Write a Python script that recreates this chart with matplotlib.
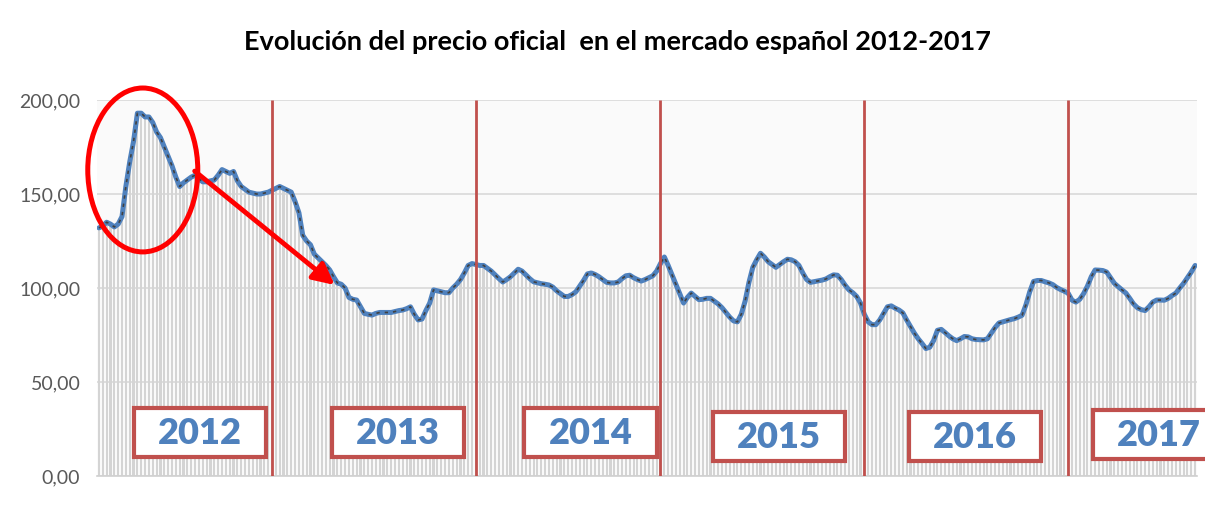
import matplotlib
matplotlib.use('Agg')
import matplotlib.pyplot as plt
from matplotlib.patches import Ellipse, Rectangle
import numpy as np

# precio semanal (feb 2012 - ago 2017)
precio = [
    132, 133, 135, 134, 132.5, 134, 138, 154, 167, 178,
    193, 193, 191, 191, 188, 183, 180, 175, 170, 165,
    159, 154, 156, 157.5, 159, 160, 158, 156.5, 156.5, 157,
    157.5, 160, 163, 162, 161, 162, 157, 154, 152.5, 151,
    150.5, 150, 150, 150.5, 151, 152, 153, 154, 153, 152,
    151, 146, 140, 128, 125, 123, 118, 116, 114, 112,
    109.6, 106, 102.7, 102, 100, 95, 94, 93.6, 90, 86.5,
    86, 85.6, 86.5, 87, 87, 87, 87, 87.5, 88, 88.3,
    89, 90, 86, 83, 83.5, 88, 92, 99, 98.5, 98,
    97.5, 97.5, 100, 102, 104.5, 108, 112, 113, 112.5, 112,
    112, 110.5, 109, 107, 105, 103.2, 104.5, 106, 108, 110,
    109, 107, 105, 103.3, 102.8, 102.3, 102, 101.6, 100.5, 98.5,
    97, 95.5, 95.5, 96.5, 98, 101, 104, 107.5, 108, 107.2,
    106, 104.5, 103, 102.7, 102.7, 103.2, 105, 106.5, 106.8, 105.5,
    104.5, 103.7, 104.5, 105.5, 106.5, 109, 113, 116.5, 112, 107,
    102, 97, 92, 95, 97.3, 95.5, 93.8, 94, 94.5, 94.5,
    93, 91.5, 89.5, 87, 84.5, 82.5, 82, 86, 93, 103,
    111, 115, 118.5, 116.5, 114, 112.5, 111, 112.5, 114, 115.3,
    115, 114, 112, 108, 104.5, 103, 103.4, 103.8, 104.2, 104.8,
    106, 107, 106.8, 104.5, 101.5, 99, 97.5, 95.5, 92, 86,
    82, 80.5, 80.5, 83, 86.5, 90, 90.5, 89.3, 88.3, 86.8,
    83, 79.5, 76, 73, 70.5, 67.8, 68.5, 72, 77.5, 78,
    76.3, 74.5, 73, 72, 73, 74.2, 74, 73, 72.6, 72.5,
    72.4, 73, 76, 79, 81.4, 82, 82.6, 83.2, 83.7, 84.5,
    85.5, 91, 98, 103.5, 104, 104, 103.3, 102.7, 101.8, 100.3,
    99.2, 98.3, 97.2, 93.5, 92.5, 94, 97, 101, 106, 109.6,
    109.5, 109.3, 108.5, 105.5, 102.5, 100.7, 99, 97.3, 94.5, 91.5,
    89.5, 88.5, 88, 90, 92.5, 93.6, 93.6, 93.5, 94.5, 96,
    97.3, 100, 102.5, 105.5, 108.5, 112,
]
semana = np.arange(len(precio))

anios = ['2012', '2013', '2014', '2015', '2016', '2017']
cortes_anio = [45, 98, 146, 199, 252]
y_ticks = [0, 50, 100, 150, 200]

# posiciones de las cajas de los años (semana izquierda, valor inferior)
caja_x = [9.1, 60.5, 110.6, 159.7, 210.6, 258.4]
caja_y = [10, 10, 10, 8, 8, 9]
caja_w, caja_h = 34.4, 26

azul = '#4F81BD'
rojo_excel = '#C0504D'

plt.rcParams['font.family'] = ['Lato', 'DejaVu Sans']

fig = plt.figure(figsize=(12.05, 5.31), dpi=100)
ax = fig.add_axes([0.0805, 0.1036, 0.9129, 0.708])
ax.set_facecolor('#fafafa')

ax.bar(semana, precio, width=0.55, color='#d4d4d4', linewidth=0, zorder=2)
ax.plot(semana, precio, color=azul, lw=3.6, zorder=4, solid_capstyle='round')
ax.plot(semana, precio, color='#404040', lw=1.2, dashes=(2.0, 3.0), zorder=5)

ax.vlines(cortes_anio, 0, 200, color=rojo_excel, lw=2, zorder=6)

for nombre, x0, y0 in zip(anios, caja_x, caja_y):
    ax.add_patch(Rectangle((x0, y0), caja_w, caja_h, facecolor='white',
                           edgecolor=rojo_excel, lw=3, zorder=7, clip_on=False))
    ax.text(x0 + caja_w / 2, y0 + caja_h / 2 - 0.5, nombre, ha='center', va='center',
            fontsize=26, fontweight='heavy', color=azul, zorder=8, clip_on=False)

# marca del pico de 2012 y flecha
ax.add_patch(Ellipse((11.4, 162.8), 28.6, 87.2, fill=False, edgecolor='red',
                     lw=3.6, zorder=9, clip_on=False))
ax.annotate('', xy=(61.3, 101.6), xytext=(24.9, 162.2),
            arrowprops=dict(arrowstyle='-|>', color='red', lw=3.5,
                            mutation_scale=32, shrinkA=0, shrinkB=0),
            zorder=9)

ax.set_xlim(-0.5, len(precio) - 0.5)
ax.set_ylim(0, 200)
ax.set_yticks(y_ticks)
ax.set_yticklabels([f'{v:.2f}'.replace('.', ',') for v in y_ticks])
ax.set_xticks([])
ax.tick_params(axis='y', length=0, pad=12, labelsize=14, labelcolor='#595959')
ax.grid(axis='y', color='#d9d9d9', lw=1.2, zorder=1)
ax.set_axisbelow(True)
for s in ['top', 'right', 'left']:
    ax.spines[s].set_visible(False)
ax.spines['bottom'].set_color('#d0d0d0')
ax.spines['bottom'].set_linewidth(1.2)

fig.text(0.512, 0.921, 'Evolución del precio oficial  en el mercado español 2012-2017',
         ha='center', va='center', fontsize=19.5, fontweight='bold', color='black')

fig.savefig('out.png', dpi=100)
